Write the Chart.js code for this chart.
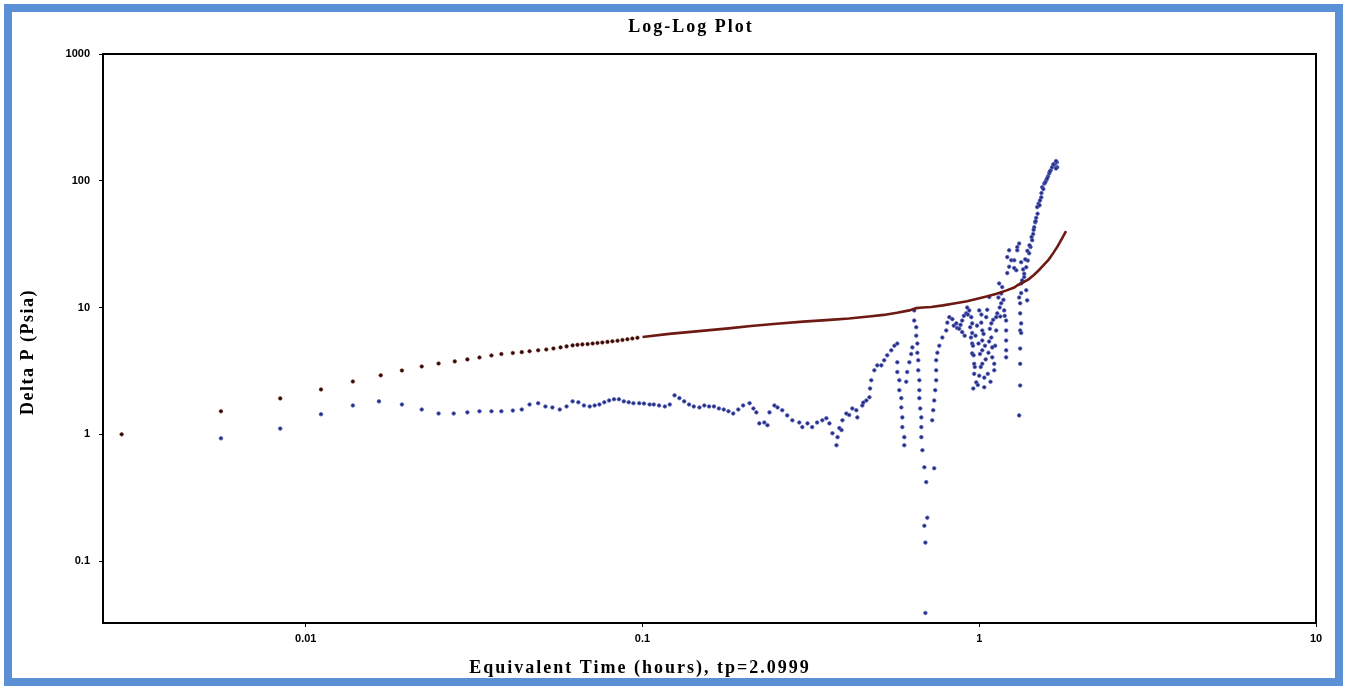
<!DOCTYPE html>
<html>
<head>
<meta charset="utf-8">
<title>Log-Log Plot</title>
<script src="https://cdn.jsdelivr.net/npm/chart.js@4.4.1/dist/chart.umd.min.js"></script>
<style>
  html, body { margin:0; padding:0; background:#fff; }
  #wrap { position:absolute; left:0; top:0; width:1345px; height:689px; }
  #frame { position:absolute; left:4px; top:4px; width:1339px; height:682px; box-sizing:border-box;
           border:8px solid #5b8fd6; pointer-events:none; }
</style>
</head>
<body>
<div id="wrap"><canvas id="plot"></canvas></div>
<div id="frame"></div>
<script>
const titleText = "Log-Log Plot";
const xTitleText = "Equivalent Time (hours), tp=2.0999";
const yTitleText = "Delta P (Psia)";

const xTicks = [0.01, 0.1, 1, 10];
const yTicks = [0.1, 1, 10, 100, 1000];
const xMin = 0.0025, xMax = 10;
const yMin = 0.0325, yMax = 1000;

// delta P, early (separate dots)
const redDots = [
  [0.00284,1.0],[0.0056,1.52],[0.0084,1.92],[0.0111,2.26],[0.0138,2.61],[0.0167,2.92],
  [0.0193,3.19],[0.0221,3.43],[0.0248,3.62],[0.0277,3.76],[0.0302,3.90],[0.0328,4.04],
  [0.0356,4.19],[0.0381,4.30],[0.0412,4.38],[0.0438,4.45],[0.0462,4.52],[0.049,4.60],
  [0.0518,4.67],[0.0544,4.76],[0.0571,4.85],[0.0595,4.94],[0.062,5.03],[0.0641,5.08],
  [0.0663,5.12],[0.0687,5.15],[0.0711,5.2],[0.0735,5.26],[0.076,5.3],[0.0787,5.36],
  [0.0814,5.42],[0.0843,5.48],[0.0872,5.55],[0.0902,5.62],[0.0933,5.7],[0.0966,5.78]
];

// delta P, late (points so dense they read as a line)
const redLine = [
  [0.1,5.86],[0.12,6.2],[0.15,6.55],[0.18,6.85],[0.21,7.15],[0.25,7.45],[0.3,7.75],
  [0.36,8.0],[0.41,8.2],[0.47,8.5],[0.52,8.75],[0.57,9.1],[0.62,9.5],[0.65,9.9],
  [0.68,10.0],[0.72,10.1],[0.78,10.4],[0.85,10.8],[0.92,11.2],[0.98,11.7],[1.05,12.2],
  [1.12,12.8],[1.2,13.6],[1.27,14.4],[1.3,15.0],[1.35,15.8],[1.4,16.7],[1.45,18.0],
  [1.5,19.6],[1.55,21.5],[1.61,24.0],[1.66,27.0],[1.71,30.5],[1.76,35],[1.81,40]
];

// derivative
const bluePoints = [
  [0.0056,0.93],[0.0084,1.11],[0.0111,1.44],[0.0138,1.69],[0.0165,1.82],[0.0193,1.72],
  [0.0221,1.57],[0.0248,1.46],[0.0275,1.46],[0.0302,1.49],[0.0328,1.52],[0.0356,1.52],
  [0.0381,1.52],[0.0412,1.54],[0.0438,1.57],[0.0462,1.72],[0.049,1.76],[0.0515,1.66],
  [0.054,1.63],[0.0568,1.57],[0.0595,1.66],[0.062,1.82],[0.0645,1.79],[0.067,1.69],
  [0.0697,1.66],[0.0721,1.69],[0.0745,1.72],[0.077,1.79],[0.0796,1.85],[0.0823,1.89],
  [0.0851,1.89],[0.088,1.82],[0.091,1.79],[0.094,1.76],[0.0978,1.76],[0.101,1.75],
  [0.105,1.72],[0.108,1.72],[0.112,1.69],[0.1165,1.66],[0.1205,1.72],[0.1245,2.03],
  [0.1287,1.93],[0.133,1.82],[0.1375,1.72],[0.142,1.66],[0.1476,1.63],[0.1526,1.69],
  [0.1577,1.66],[0.163,1.66],[0.1686,1.6],[0.1743,1.57],[0.18,1.52],[0.186,1.46],
  [0.1925,1.57],[0.199,1.69],[0.208,1.76],[0.2135,1.6],[0.2178,1.49],
  [0.2223,1.22],[0.23,1.24],[0.235,1.18],[0.2383,1.49],[0.2465,1.69],[0.2518,1.63],
  [0.26,1.55],[0.269,1.41],[0.2786,1.29],[0.2922,1.24],[0.2983,1.14],[0.309,1.22],
  [0.319,1.14],[0.33,1.24],[0.342,1.29],[0.3515,1.34],[0.359,1.22],[0.3665,1.02],
  [0.3767,0.82],[0.3795,0.95],[0.3843,1.12],[0.39,1.08],[0.3924,1.29],[0.403,1.46],
  [0.411,1.42],[0.4198,1.6],[0.4315,1.55],[0.4345,1.36],[0.4495,1.69],[0.4526,1.78],
  [0.4621,1.85],[0.472,1.96],[0.474,2.3],[0.478,2.67],[0.488,3.2],[0.498,3.5],
  [0.512,3.5],[0.522,3.84],[0.533,4.2],[0.548,4.6],[0.5597,5.0],[0.571,5.2],
  [0.571,3.7],[0.571,3.1],[0.579,2.67],[0.579,2.23],[0.587,1.93],[0.587,1.63],
  [0.591,1.36],[0.591,1.14],[0.599,0.95],[0.599,0.82],
  [0.607,2.6],[0.611,3.1],[0.62,3.7],[0.628,4.3],[0.633,4.85],
  [0.641,9.5],[0.641,7.9],[0.65,7.0],[0.65,6.0],[0.655,5.2],[0.655,4.4],[0.659,3.84],
  [0.659,3.2],[0.664,2.67],[0.664,2.23],[0.664,1.93],[0.668,1.6],[0.673,1.36],
  [0.673,1.14],[0.673,0.95],[0.678,0.75],[0.687,0.55],[0.696,0.42],[0.701,0.22],
  [0.687,0.19],[0.692,0.14],[0.692,0.039],
  [0.735,0.54],[0.725,1.29],[0.73,1.55],[0.735,1.85],[0.74,2.23],[0.745,2.67],
  [0.745,3.2],[0.745,3.84],[0.751,4.4],[0.761,5.0],[0.777,5.8],[0.798,6.6],
  [0.804,7.6],[0.815,8.4],
  [0.832,8.1],[0.84,7.2],[0.855,7.5],[0.86,6.9],[0.872,6.8],[0.88,7.3],[0.89,6.4],
  [0.89,7.9],[0.9,8.6],[0.905,6.0],[0.915,9.0],[0.921,10.0],[0.925,8.8],[0.934,9.5],
  [0.94,7.0],[0.945,5.8],[0.947,8.4],[0.953,7.5],[0.953,6.3],[0.953,5.2],[0.953,4.35],
  [0.958,5.0],[0.96,2.3],[0.962,4.2],[0.966,3.6],[0.966,3.0],[0.97,3.4],[0.975,6.0],
  [0.98,2.57],[0.985,7.2],[0.99,2.45],[0.995,5.2],[1.0,2.9],[1.0,9.5],[1.005,4.3],
  [1.01,3.4],[1.014,7.6],[1.015,8.8],[1.021,6.6],[1.021,5.5],[1.021,4.6],[1.021,3.6],
  [1.03,6.2],[1.035,2.8],[1.035,2.35],[1.04,5.0],[1.045,3.9],[1.049,8.4],[1.056,9.6],
  [1.06,3.0],[1.065,4.4],[1.07,5.4],[1.071,12.1],[1.075,6.8],[1.08,2.6],[1.086,7.5],
  [1.086,5.8],[1.093,4.85],[1.093,4.05],[1.1,8.0],[1.108,3.6],[1.108,3.2],[1.115,5.0],
  [1.123,6.6],[1.123,8.4],[1.131,9.0],[1.14,12.0],[1.146,15.5],[1.15,10.0],[1.155,8.5],
  [1.162,12.9],[1.162,10.8],[1.17,14.5],[1.18,11.5],[1.186,9.5],[1.19,8.6],[1.202,7.9],
  [1.202,6.6],[1.202,5.5],[1.202,4.6],[1.202,4.05],
  [1.211,18.7],[1.227,28.3],[1.245,23.6],[1.27,23.6],[1.288,19.7],[1.297,28.3],
  [1.314,32],[1.332,22.8],[1.211,25],[1.227,21],[1.27,20.5],[1.297,30],
  [1.314,12.0],[1.323,9.0],[1.323,6.6],[1.323,4.75],[1.323,3.6],[1.323,2.43],
  [1.314,1.41],[1.332,15.5],[1.332,13],[1.323,10.8],[1.332,7.5],[1.332,6.3],
  [1.36,17.4],[1.379,13.7],[1.388,11.4],
  [1.341,16.4],[1.36,18.5],[1.379,20.8],[1.393,23.5],[1.407,26.8],[1.42,30],[1.436,34],
  [1.446,38],[1.456,43],[1.466,47],[1.476,51],[1.486,62],[1.5,66],[1.515,70],[1.528,74],
  [1.538,89],[1.56,95],[1.581,101],[1.6,108],[1.613,114],[1.63,121],[1.646,128],
  [1.665,133],[1.68,137],[1.704,128],[1.69,125],[1.7,140],
  [1.35,20],[1.37,24],[1.39,28],[1.41,31],[1.43,36],[1.45,41],[1.47,48],[1.49,55],
  [1.51,64],[1.53,80],[1.55,86],[1.57,97],[1.59,104],[1.62,118],[1.66,135],[1.69,143]
];

const toXY = arr => arr.map(p => ({ x:p[0], y:p[1] }));

// frame box + hand placed titles (the originals are off-centre)
const framePlugin = {
  id: "frameAndTitles",
  afterDraw(chart){
    const { ctx, chartArea:a } = chart;
    ctx.save();
    ctx.strokeStyle = "#000";
    ctx.lineWidth = 2;
    ctx.strokeRect(a.left, a.top, a.right - a.left, a.bottom - a.top);

    ctx.fillStyle = "#000";
    ctx.textAlign = "center";
    ctx.textBaseline = "middle";
    ctx.font = "bold 18px 'Liberation Serif', 'Times New Roman', serif";
    ctx.letterSpacing = "2px";
    ctx.fillText(titleText, 691, 27);
    ctx.fillText(xTitleText, 640, 668);

    ctx.letterSpacing = "1.5px";
    ctx.translate(28, 352);
    ctx.rotate(-Math.PI / 2);
    ctx.fillText(yTitleText, 0, 0);
    ctx.restore();
  }
};

const tickFont = { family:"'Liberation Sans', Arial, sans-serif", size:11, weight:"bold" };

new Chart(document.getElementById("plot"), {
  type: "scatter",
  data: {
    datasets: [
      { label:"Delta P", data: toXY(redLine), showLine:true, borderColor:"#6e1a12",
        borderWidth:2.6, pointRadius:0, tension:0 },
      { label:"Delta P", data: toXY(redDots), pointRadius:1.8, pointBackgroundColor:"#240c0c",
        pointBorderColor:"#7a2218", pointBorderWidth:0.6 },
      { label:"Derivative", data: toXY(bluePoints), pointRadius:1.8, pointBackgroundColor:"#232a78",
        pointBorderColor:"#5b66c4", pointBorderWidth:0.8 }
    ]
  },
  options: {
    responsive:true,
    maintainAspectRatio:false,
    animation:false,
    layout:{ padding:{ left:12, right:29, top:54, bottom:0 } },
    plugins:{ legend:{ display:false }, tooltip:{ enabled:false }, title:{ display:false } },
    scales:{
      x:{
        type:"logarithmic", min:xMin, max:xMax,
        afterBuildTicks: s => { s.ticks = xTicks.map(v => ({ value:v })); },
        afterFit: s => { s.height = 66; },
        ticks:{ color:"#000", font:tickFont, padding:5, maxRotation:0, autoSkip:false,
                callback: v => String(v) },
        grid:{ display:true, drawOnChartArea:false, tickLength:4, color:"#000" },
        border:{ display:true, color:"#000", width:2 }
      },
      y:{
        type:"logarithmic", min:yMin, max:yMax,
        afterBuildTicks: s => { s.ticks = yTicks.map(v => ({ value:v })); },
        afterFit: s => { s.width = 91; },
        ticks:{ color:"#000", font:tickFont, padding:9, autoSkip:false,
                callback: v => String(v) },
        grid:{ display:true, drawOnChartArea:false, tickLength:4, color:"#000" },
        border:{ display:true, color:"#000", width:2 }
      }
    }
  },
  plugins:[framePlugin]
});
</script>
</body>
</html>
